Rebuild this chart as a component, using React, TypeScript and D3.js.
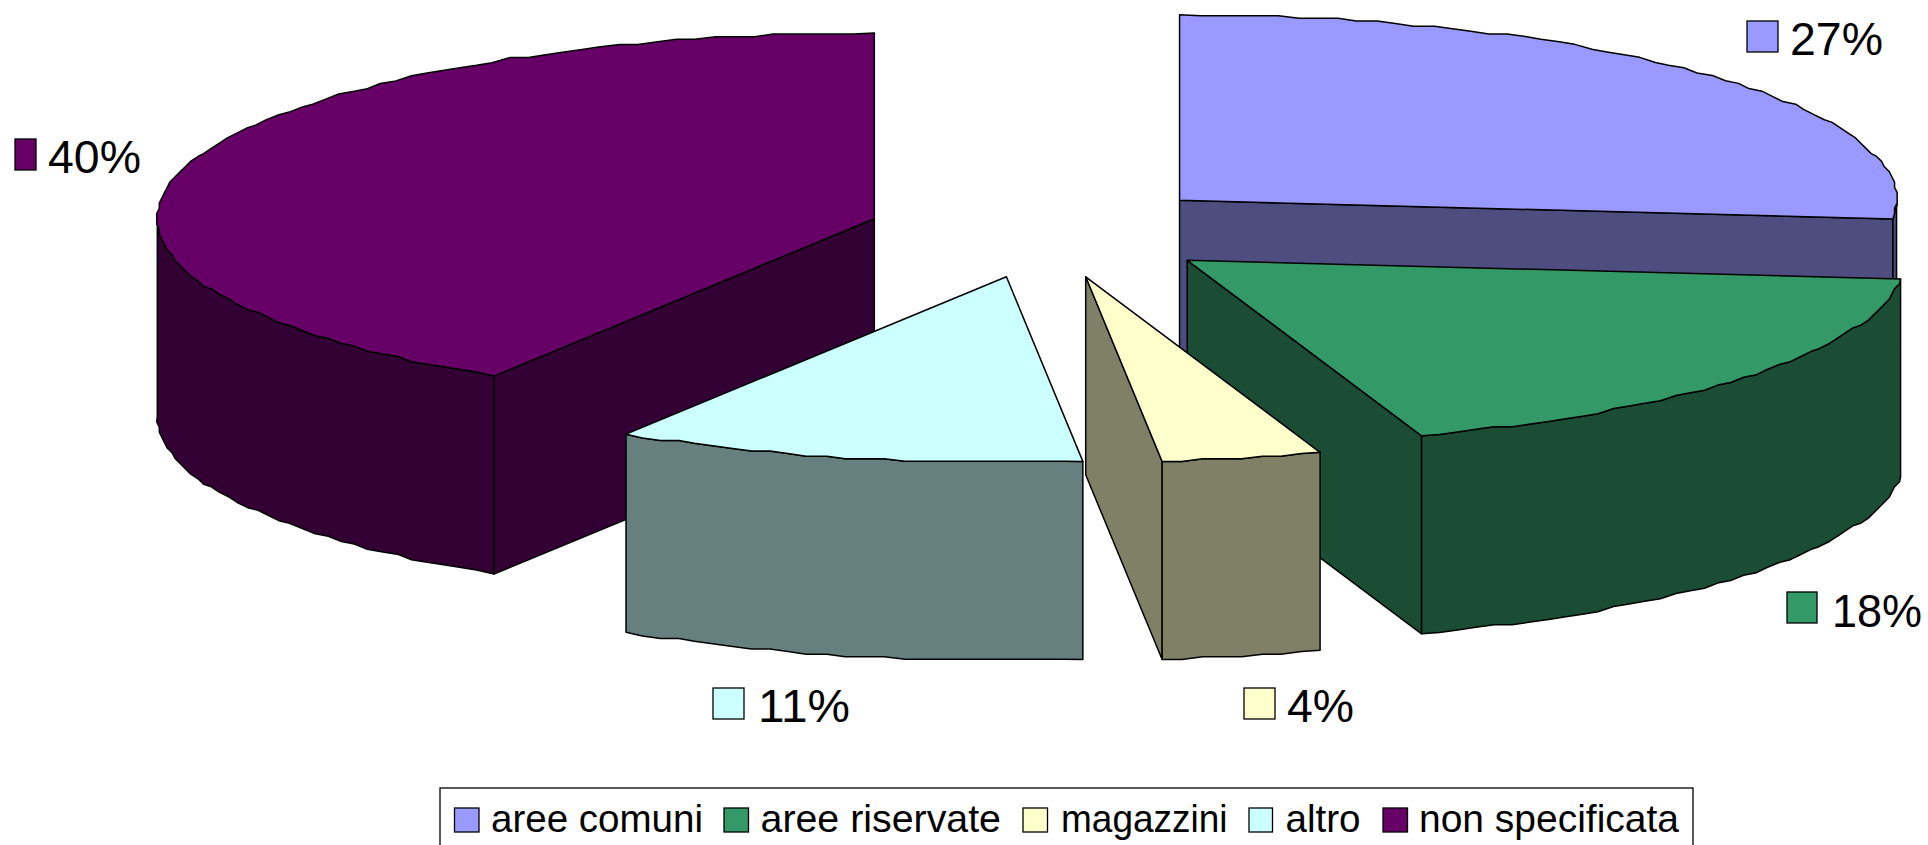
import React from "react";
import * as d3 from "d3";

const categories = ["aree comuni", "aree riservate", "magazzini", "altro", "non specificata"];
const shares = [26.6, 18.1, 3.6, 10.6, 41.1];
const percentLabels = ["27%", "18%", "4%", "11%", "40%"];
const topColors = ["#9999FF", "#339966", "#FFFFCC", "#CCFFFF", "#660066"];
const wallColors = ["#4D4D80", "#1A4D33", "#808066", "#668080", "#330033"];

// painter's order of the slices
const drawOrder = [0, 1, 4, 3, 2];

const W = 1928, H = 845;
const CX = 1046.6, CY = 231.5, RX = 717, RY = 185.7, DEPTH = 198, EXPLODE = 0.25;
const GRID = 2.6;
const STEP = 0.028;

const snap = (v: number) => Math.round(v / GRID) * GRID;
const line = d3.line<[number, number]>().x(d => d[0]).y(d => d[1]);

const pieGen = d3.pie<number>().sort(null).startAngle(0).endAngle(2 * Math.PI);
const arcs = pieGen(shares);

type Pt = [number, number];

function arcPoints(cx: number, cy: number, a: number, b: number): Pt[] {
  const n = Math.max(1, Math.round((b - a) / STEP));
  const ts = d3.range(n + 1).map(i => a + ((b - a) * i) / n);
  return ts.map((t, i) => {
    const x = RX * Math.sin(t);
    const y = -RY * Math.cos(t);
    if (i === 0 || i === n) return [cx + x, cy + y] as Pt;
    return [cx + snap(x), cy + snap(y)] as Pt;
  });
}

function Slice({ i }: { i: number }) {
  const { startAngle: a, endAngle: b } = arcs[i];
  const mid = (a + b) / 2;
  const cx = CX + EXPLODE * RX * Math.sin(mid);
  const cy = CY - EXPLODE * RY * Math.cos(mid);
  const edge = (t: number): Pt => [cx + RX * Math.sin(t), cy - RY * Math.cos(t)];
  const shift = (p: Pt): Pt => [p[0], p[1] + DEPTH];
  const wall = (t: number) => {
    const p = edge(t);
    const c: Pt = [cx, cy];
    return line([c, p, shift(p), shift(c)]) + "Z";
  };
  const common = { stroke: "#000", strokeWidth: 1.5, strokeLinejoin: "round" as const };
  const lo = Math.max(a, Math.PI / 2);
  const hi = Math.min(b, (3 * Math.PI) / 2);
  const outer = hi > lo ? arcPoints(cx, cy, lo, hi) : null;
  return (
    <g>
      {Math.sin(a) < -1e-6 && <path d={wall(a)} fill={wallColors[i]} {...common} />}
      {Math.sin(b) > 1e-6 && <path d={wall(b)} fill={wallColors[i]} {...common} />}
      {outer && (
        <path d={line([...outer, ...outer.map(shift).reverse()]) + "Z"} fill={wallColors[i]} {...common} />
      )}
      <path d={line([[cx, cy], ...arcPoints(cx, cy, a, b)]) + "Z"} fill={topColors[i]} {...common} />
    </g>
  );
}

// data-label anchors: key box left/top, text left/baseline
const labelBoxes = [
  { kx: 1747, ky: 21, kw: 31, tx: 1790, ty: 55, tw: 93 },
  { kx: 1787, ky: 592, kw: 30, tx: 1832, ty: 627, tw: 90 },
  { kx: 1244, ky: 688, kw: 31, tx: 1287, ty: 722, tw: 67 },
  { kx: 713, ky: 688, kw: 31, tx: 758, ty: 722, tw: 92 },
  { kx: 15, ky: 139, kw: 21, tx: 48, ty: 173, tw: 93 },
];

const legendItems = [
  { kx: 454.5, kw: 24.5, tx: 491, tw: 212 },
  { kx: 724, kw: 24.5, tx: 760.5, tw: 240.5 },
  { kx: 1023, kw: 24.5, tx: 1061, tw: 166.5 },
  { kx: 1249, kw: 23.5, tx: 1285.5, tw: 75 },
  { kx: 1383, kw: 24.5, tx: 1419, tw: 260 },
];

const FONT = '"Liberation Sans", Arial, sans-serif';

export default function App() {
  return (
    <svg
      width={W}
      height={H}
      viewBox={`0 0 ${W} ${H}`}
      style={{ position: "fixed", left: 0, top: 0, display: "block", background: "#fff" }}
      fontFamily={FONT}
    >
      {drawOrder.map(i => <Slice key={i} i={i} />)}

      {percentLabels.map((t, i) => {
        const b = labelBoxes[i];
        return (
          <g key={t}>
            <rect x={b.kx} y={b.ky} width={b.kw} height={31} fill={topColors[i]} stroke="#000" strokeWidth={1.3} />
            <text x={b.tx} y={b.ty} fontSize={47} fill="#000" textLength={b.tw} lengthAdjust="spacingAndGlyphs">{t}</text>
          </g>
        );
      })}

      <rect x={440} y={788} width={1253} height={80} fill="#fff" stroke="#000" strokeWidth={1.3} />
      {categories.map((c, i) => {
        const l = legendItems[i];
        return (
          <g key={c}>
            <rect x={l.kx} y={808} width={l.kw} height={24} fill={topColors[i]} stroke="#000" strokeWidth={1.3} />
            <text x={l.tx} y={832} fontSize={38.5} fill="#000" textLength={l.tw} lengthAdjust="spacingAndGlyphs">{c}</text>
          </g>
        );
      })}
    </svg>
  );
}
